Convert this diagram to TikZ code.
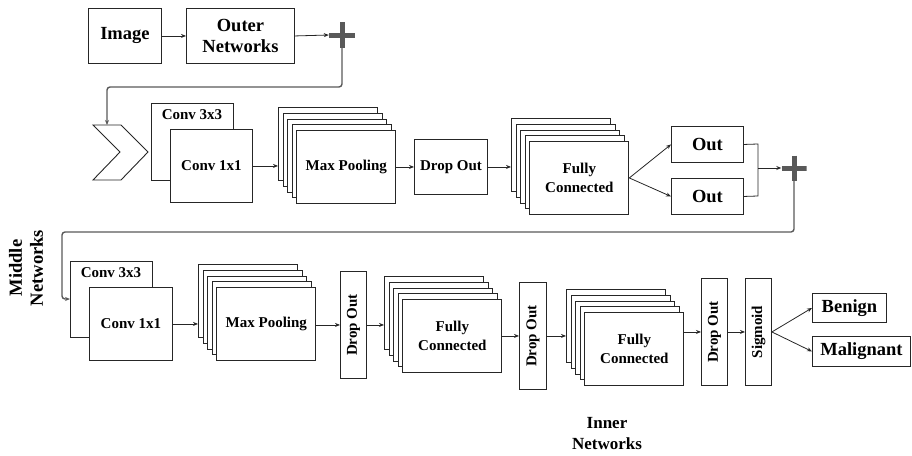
\documentclass[tikz,border=0pt]{standalone}
\usepackage{fontspec}
\setmainfont{Liberation Serif}
\usetikzlibrary{arrows.meta}
\newcommand\layerstack[5]{% name, x, y, text, text font
  \foreach \i in {1,...,4} {
    \node[box, minimum width=99pt, minimum height=73pt] (#1-\i) at ({#2+(\i-1)*4.6},{#3+(\i-1)*5.75}) {};
  }
  \node[box, #5, minimum width=99pt, minimum height=73pt] (#1-5) at ({#2+4*4.6},{#3+4*5.75}) {#4};
}
\begin{document}
\begin{tikzpicture}[x=1pt,y=-1pt,
  box/.style={draw=black!85, line width=0.9pt, fill=white, inner sep=0pt, anchor=north west, align=center},
  small/.style={font=\fontsize{15}{19}\selectfont\bfseries},
  big/.style={font=\fontsize{18.5}{21}\selectfont\bfseries},
  arr/.style={-{Stealth[length=5pt,width=4pt]}, line width=0.8pt, black!85},
  loopline/.style={line width=1.4pt, black!65, rounded corners=3pt},
  plus/.style={minimum size=#1, inner sep=0pt, path picture={
    \draw[line width=5pt, black!65] (path picture bounding box.west) -- (path picture bounding box.east)
      (path picture bounding box.north) -- (path picture bounding box.south);}},
  plus/.default=25pt
]
\useasboundingbox (0,0) rectangle (912,455);

% ---------- row 1 ----------
\node[box, big, minimum width=73pt, minimum height=55pt] (img) at (88,8) {Image};
\node[box, big, minimum width=108pt, minimum height=55pt] (outer) at (186,8) {Outer\\Networks};
\node[plus=26pt] (p1) at (342,35) {};
\draw[arr] (img.east) -- (outer.west);
\draw[arr] (outer.east) -- (p1.west);

% ---------- row 2 ----------
\draw[line width=0.9pt, black!85] (93,125) -- (121,125) -- (148,152) -- (121,180) -- (93,180) -- (120,152) -- cycle;
\coordinate (chevtop) at (107,125);
\draw[loopline, -{Stealth[length=5pt,width=4pt]}] (p1.south) -- (342,87) -- (107,87) -- (chevtop);

\node[box, minimum width=82pt, minimum height=77pt] (c3a) at (151,103) {};
\node[small] (c3at) at (192,115) {Conv 3x3};
\node[box, small, minimum width=82pt, minimum height=73pt] (c1a) at (170,129) {Conv 1x1};

\layerstack{mpa}{278}{107}{Max Pooling}{small}
\draw[arr] (c1a.east) -- (c1a.east -| mpa-1.west);

\node[box, small, minimum width=73pt, minimum height=55pt] (doa) at (414,139) {Drop Out};
\draw[arr] (mpa-5.east |- doa.west) -- (doa.west);

\layerstack{fca}{511}{118}{Fully\\Connected}{small}
\draw[arr] (doa.east) -- (doa.east -| fca-1.west);

\node[box, big, minimum width=72pt, minimum height=36pt] (out1) at (671,126) {Out};
\node[box, big, minimum width=72pt, minimum height=36pt] (out2) at (671,178) {Out};
\draw[arr] (fca-5.east) -- (out1.west);
\draw[arr] (fca-5.east) -- (out2.west);

\node[plus=25pt] (p2) at (794,168) {};
\draw[line width=0.8pt, black!85] (out1.east) -- (758,144) -- (758,196) -- (out2.east);
\coordinate (join) at (758,168);
\draw[arr] (join) -- (p2.west);

% ---------- row 3 ----------
\node[box, minimum width=82pt, minimum height=76pt] (c3b) at (70,261) {};
\node[small] (c3bt) at (111,273) {Conv 3x3};
\node[box, small, minimum width=83pt, minimum height=73pt] (c1b) at (89,287) {Conv 1x1};
\draw[loopline, -{Stealth[length=5pt,width=4pt]}] (p2.south) -- (794,232) -- (62,232) -- (62,299) -- (c3b.west |- 0,299);

\layerstack{mpb}{198}{264}{Max Pooling}{small}
\draw[arr] (c1b.east) -- (c1b.east -| mpb-1.west);

\node[box, small, minimum width=26pt, minimum height=107pt] (dob1) at (340,271) {\rotatebox{90}{Drop Out}};
\draw[arr] (mpb-5.east |- dob1.west) -- (dob1.west);

\layerstack{fcb}{384}{276}{Fully\\Connected}{small}
\draw[arr] (dob1.east) -- (dob1.east -| fcb-1.west);

\node[box, small, minimum width=27pt, minimum height=107pt] (dob2) at (519,282) {\rotatebox{90}{Drop Out}};
\draw[arr] (fcb-5.east |- dob2.west) -- (dob2.west);

\layerstack{fcc}{566}{289}{Fully\\Connected}{small}
\draw[arr] (dob2.east) -- (dob2.east -| fcc-1.west);

\node[box, small, minimum width=26pt, minimum height=107pt] (dob3) at (701,278) {\rotatebox{90}{Drop Out}};
\draw[arr] (fcc-5.east |- dob3.west) -- (dob3.west);

\node[box, small, minimum width=26pt, minimum height=107pt] (sig) at (745,278) {\rotatebox{90}{Sigmoid}};
\draw[arr] (dob3.east) -- (sig.west);

\node[box, big, minimum width=74pt, minimum height=29pt] (ben) at (812,293) {Benign};
\node[box, big, minimum width=98pt, minimum height=30pt] (mal) at (812,336) {Malignant};
\draw[arr] (sig.east) -- (ben.west);
\draw[arr] (sig.east) -- (mal.west);

% ---------- labels ----------
\node[big, rotate=90, align=center] (mid) at (26,268) {Middle\\Networks};
\node[font=\fontsize{17}{21}\selectfont\bfseries, align=center] (inner) at (607,434) {Inner\\Networks};
\end{tikzpicture}
\end{document}
